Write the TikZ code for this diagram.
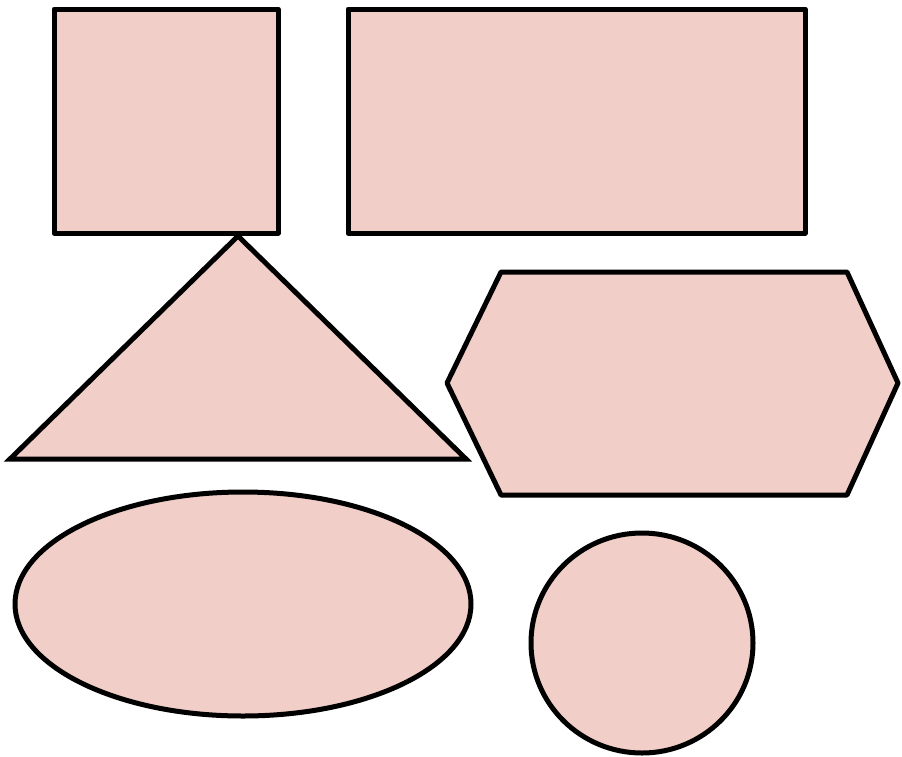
\documentclass[tikz,border=0pt]{standalone}
\definecolor{shapepink}{RGB}{242,206,200}
\tikzset{
  pinkshape/.style={draw=black, fill=shapepink, line width=5pt, line join=round}
}
\begin{document}
\begin{tikzpicture}[x=1pt, y=-1pt]
          \useasboundingbox (0, 0) rectangle (902, 756);
          \draw[pinkshape] (54, 9) rectangle (278, 233);
          \draw[pinkshape] (348, 9) rectangle (805, 233);
          \draw[pinkshape, line join=miter] (238, 236) -- (466, 459) -- (10,
          459) -- cycle;
          \draw[pinkshape] (501, 272) -- (847, 272) -- (898, 383) -- (847,
          495) -- (501, 495) -- (447, 383) -- cycle;
          \draw[pinkshape] (243, 604) ellipse (228 and 112);
          \draw[pinkshape] (642, 643) ellipse (111 and 110);
        \end{tikzpicture}
\end{document}
